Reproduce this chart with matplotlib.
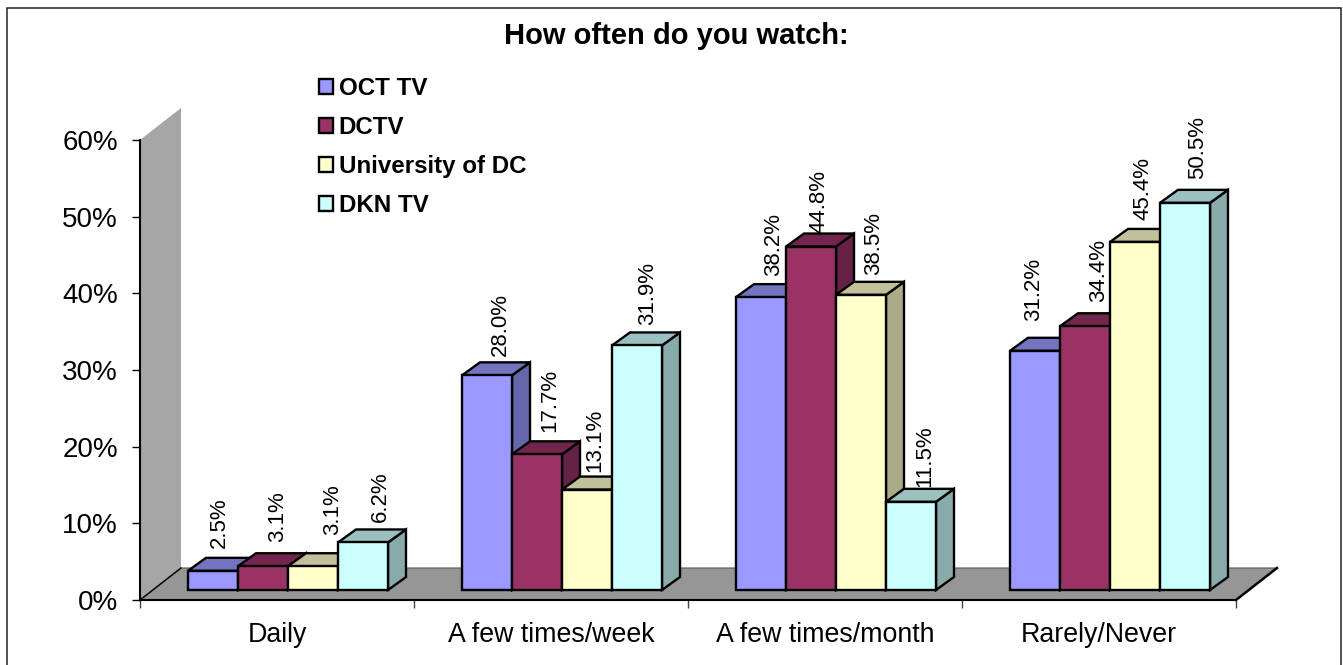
import numpy as np
import matplotlib
matplotlib.use("Agg")
import matplotlib.pyplot as plt
from matplotlib.patches import Polygon, Rectangle
from matplotlib.ticker import FuncFormatter

categories = ["Daily", "A few times/week", "A few times/month", "Rarely/Never"]
oct_tv = [2.5, 28.0, 38.2, 31.2]
dctv = [3.1, 17.7, 44.8, 34.4]
udc = [3.1, 13.1, 38.5, 45.4]
dkn_tv = [6.2, 31.9, 11.5, 50.5]
series_names = ["OCT TV", "DCTV", "University of DC", "DKN TV"]

front_colors = ["#9999FF", "#993366", "#FFFFCC", "#CCFFFF"]
top_colors = ["#7373C0", "#73264D", "#C0C09A", "#9AC0C0"]
side_colors = ["#6666AA", "#662244", "#AAAA88", "#88AAAA"]

W, H = 1343, 665
px_x = 1 / 274.0    # one pixel in x data units
px_y = 60 / 460.0   # one pixel in y data units

# label nudges in pixels, the original has them a bit scattered
nudge_x = [[6, 15, 20, 17], [13, 13, 8, 11], [13, 8, 13, 14], [-1, 14, 8, 13]]
nudge_y = [[10, 11, 18, 7], [6, 9, 5, 7], [8, 1, 7, 2], [17, 11, 9, 11]]

plt.rcParams["font.family"] = ["Liberation Sans", "DejaVu Sans"]

fig = plt.figure(figsize=(W / 100, H / 100), dpi=100)
ax = fig.add_axes([140 / W, (H - 600) / H, 1096 / W, 460 / H])
ax.set_xlim(0, 4)
ax.set_ylim(0, 60)
ax.patch.set_visible(False)

# chart frame, the bottom edge is cut off in the original
fig.add_artist(Rectangle((6.5 / W, -10 / H), 1334.5 / W, (H - 7.5 + 10) / H, fill=False,
                         ec="#222222", lw=1.1, transform=fig.transFigure))

# back wall and floor
wall_dx, wall_dy = 41 * px_x, 32 * px_y
ax.add_patch(Polygon([(0, 0), (wall_dx, wall_dy), (wall_dx, 60 + wall_dy), (0, 60)],
                     fc="#A6A6A6", ec="none", clip_on=False, zorder=1))
ax.add_patch(Polygon([(0, 0), (wall_dx, wall_dy), (4 + wall_dx, wall_dy), (4, 0)],
                     fc="#969696", ec="#555555", lw=0.8, clip_on=False, zorder=1.5))
ax.plot([0, wall_dx], [0, wall_dy], color="black", lw=1, clip_on=False, zorder=2)
ax.plot([4, 4 + wall_dx], [0, wall_dy], color="black", lw=1.8, clip_on=False, zorder=2)

# bars
bar_w = 50 * px_x
start = 48 * px_x
base = 10 * px_y
depth_x, depth_y = 18 * px_x, 13 * px_y
all_series = [oct_tv, dctv, udc, dkn_tv]
handles = []
z = 3
for c in range(len(categories)):
    for s, values in enumerate(all_series):
        v = values[c]
        x0 = c + start + s * bar_w
        x1 = x0 + bar_w
        top = base + v
        side = Polygon([(x1, base), (x1 + depth_x, base + depth_y),
                        (x1 + depth_x, top + depth_y), (x1, top)],
                       fc=side_colors[s], ec="black", lw=1.7, zorder=z, clip_on=False)
        roof = Polygon([(x0, top), (x0 + depth_x, top + depth_y),
                        (x1 + depth_x, top + depth_y), (x1, top)],
                       fc=top_colors[s], ec="black", lw=1.7, zorder=z, clip_on=False)
        ax.add_patch(side)
        ax.add_patch(roof)
        b = ax.bar(x0, v, width=bar_w, bottom=base, align="edge", color=front_colors[s],
                   ec="black", lw=1.7, zorder=z + 0.5, clip_on=False)
        if c == 0:
            handles.append(b[0])
        z += 1
        ax.text(x0 + bar_w / 2 + nudge_x[c][s] * px_x, top + depth_y + nudge_y[c][s] * px_y,
                f"{v:.1f}%", rotation=90, ha="center", va="bottom", fontsize=16, zorder=2.5,
                clip_on=False)

# axes
for name in ["top", "right"]:
    ax.spines[name].set_visible(False)
ax.spines["left"].set_linewidth(1.5)
ax.spines["bottom"].set_linewidth(1.5)
ax.spines["left"].set_zorder(2)
ax.spines["bottom"].set_zorder(2)

ax.set_yticks(np.arange(0, 61, 10))
ax.yaxis.set_major_formatter(FuncFormatter(lambda v, _: f"{v:.0f}%"))
ax.tick_params(axis="y", length=6, width=1, labelsize=20, pad=10)
ax.set_xticks(range(5))
ax.set_xticklabels([])
ax.set_xticks(np.arange(4) + 0.5, minor=True)
ax.set_xticklabels(categories, minor=True)
ax.tick_params(axis="x", which="major", length=6, width=1, color="#444444")
ax.tick_params(axis="x", which="minor", length=0, labelsize=19.3, pad=16)

fig.text(676 / W, (H - 36) / H, "How often do you watch:", ha="center", va="center",
         fontsize=21, fontweight="bold")

ax.legend(handles, series_names, loc="upper left", frameon=False,
          bbox_to_anchor=(312 / W, (H - 70) / H), bbox_transform=fig.transFigure,
          prop={"weight": "bold", "size": 17.4}, labelspacing=0.66,
          handlelength=0.58, handleheight=0.58, handletextpad=0.22, borderpad=0, borderaxespad=0.3)

fig.savefig("out.png", dpi=100)
plt.close(fig)
